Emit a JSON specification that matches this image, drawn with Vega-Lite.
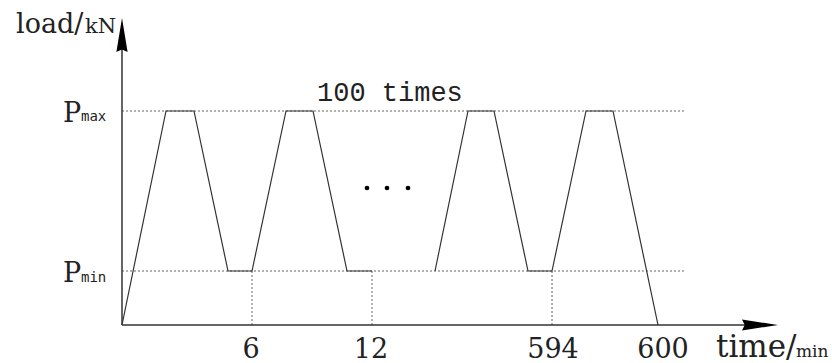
{
  "$schema": "https://vega.github.io/schema/vega-lite/v6.json",
  "width": 656,
  "height": 290,
  "autosize": {"type": "none"},
  "padding": {"left": 122, "top": 35, "right": 54, "bottom": 38},
  "background": "white",
  "config": {"view": {"stroke": null}},
  "datasets": {
    "wave": [
      {"seg": "a", "i": 0, "t": 0, "load": 0},
      {"seg": "a", "i": 1, "t": 44, "load": 214},
      {"seg": "a", "i": 2, "t": 72, "load": 214},
      {"seg": "a", "i": 3, "t": 106, "load": 54},
      {"seg": "a", "i": 4, "t": 130, "load": 54},
      {"seg": "a", "i": 5, "t": 164, "load": 214},
      {"seg": "a", "i": 6, "t": 191, "load": 214},
      {"seg": "a", "i": 7, "t": 225, "load": 54},
      {"seg": "a", "i": 8, "t": 250, "load": 54},
      {"seg": "b", "i": 0, "t": 313, "load": 54},
      {"seg": "b", "i": 1, "t": 346, "load": 214},
      {"seg": "b", "i": 2, "t": 372, "load": 214},
      {"seg": "b", "i": 3, "t": 406, "load": 54},
      {"seg": "b", "i": 4, "t": 430, "load": 54},
      {"seg": "b", "i": 5, "t": 464, "load": 214},
      {"seg": "b", "i": 6, "t": 491, "load": 214},
      {"seg": "b", "i": 7, "t": 536, "load": 0}
    ],
    "hlines": [
      {"t": 0, "t2": 563, "load": 214},
      {"t": 0, "t2": 563, "load": 54}
    ],
    "vlines": [
      {"t": 130, "load": 0, "load2": 54},
      {"t": 250, "load": 0, "load2": 54},
      {"t": 430, "load": 0, "load2": 54}
    ],
    "axes": [
      {"t": 0, "t2": 640, "load": 0, "load2": 0},
      {"t": 0, "t2": 0, "load": 0, "load2": 280}
    ],
    "arrowY": [{"t": 0, "load": 290}],
    "arrowX": [{"t": 638, "load": 0}],
    "dots": [
      {"t": 245, "load": 137},
      {"t": 265, "load": 137},
      {"t": 286, "load": 137}
    ],
    "ticks": [
      {"t": 129, "load": -33, "label": "6"},
      {"t": 249, "load": -33, "label": "12"},
      {"t": 431, "load": -33, "label": "594"},
      {"t": 541, "load": -33, "label": "600"}
    ],
    "bigLeft": [
      {"t": -106, "load": 292, "label": "load/"},
      {"t": -59, "load": 203, "label": "P"},
      {"t": -59, "load": 43, "label": "P"}
    ],
    "smallLeft": [
      {"t": -37, "load": 292, "label": "kN"}
    ],
    "subs": [
      {"t": -41, "load": 204, "label": "max"},
      {"t": -41, "load": 43, "label": "min"}
    ],
    "timeLabel": [{"t": 594, "load": -32, "label": "time/"}],
    "minLabel": [{"t": 674, "load": -32, "label": "min"}],
    "times": [{"t": 195, "load": 224, "label": "100 times"}]
  },
  "encoding": {
    "x": {"field": "t", "type": "quantitative", "scale": {"domain": [0, 656], "nice": false, "zero": false}, "axis": null},
    "y": {"field": "load", "type": "quantitative", "scale": {"domain": [0, 290], "nice": false, "zero": false}, "axis": null}
  },
  "layer": [
    {
      "data": {"name": "hlines"},
      "mark": {"type": "rule", "color": "#666", "strokeWidth": 1, "strokeDash": [2, 2]},
      "encoding": {"x2": {"field": "t2"}}
    },
    {
      "data": {"name": "vlines"},
      "mark": {"type": "rule", "color": "#666", "strokeWidth": 1, "strokeDash": [2, 2]},
      "encoding": {"y2": {"field": "load2"}}
    },
    {
      "data": {"name": "axes"},
      "mark": {"type": "rule", "color": "#333", "strokeWidth": 1.5},
      "encoding": {"x2": {"field": "t2"}, "y2": {"field": "load2"}}
    },
    {
      "data": {"name": "wave"},
      "mark": {"type": "line", "color": "#333", "strokeWidth": 1.2},
      "encoding": {"detail": {"field": "seg"}, "order": {"field": "i", "type": "quantitative"}}
    },
    {
      "data": {"name": "arrowY"},
      "mark": {"type": "point", "filled": true, "color": "black", "opacity": 1, "shape": "M0,-1 L0.33,1 L0,0.85 L-0.33,1 Z", "size": 1156}
    },
    {
      "data": {"name": "arrowX"},
      "mark": {"type": "point", "filled": true, "color": "black", "opacity": 1, "shape": "M1,0 L-1,-0.3 L-0.85,0 L-1,0.3 Z", "size": 1296}
    },
    {
      "data": {"name": "dots"},
      "mark": {"type": "point", "filled": true, "color": "black", "opacity": 1, "size": 22}
    },
    {
      "data": {"name": "ticks"},
      "mark": {"type": "text", "font": "DejaVu Serif", "fontSize": 27, "align": "center", "baseline": "alphabetic", "color": "#222"},
      "encoding": {"text": {"field": "label"}}
    },
    {
      "data": {"name": "bigLeft"},
      "mark": {"type": "text", "font": "DejaVu Serif", "fontSize": 27, "align": "left", "baseline": "alphabetic", "color": "#222"},
      "encoding": {"text": {"field": "label"}}
    },
    {
      "data": {"name": "smallLeft"},
      "mark": {"type": "text", "font": "DejaVu Serif", "fontSize": 21, "align": "left", "baseline": "alphabetic", "color": "#222"},
      "encoding": {"text": {"field": "label"}}
    },
    {
      "data": {"name": "subs"},
      "mark": {"type": "text", "font": "DejaVu Sans Mono", "fontSize": 14, "align": "left", "baseline": "alphabetic", "color": "#222"},
      "encoding": {"text": {"field": "label"}}
    },
    {
      "data": {"name": "timeLabel"},
      "mark": {"type": "text", "font": "DejaVu Serif", "fontSize": 31, "align": "left", "baseline": "alphabetic", "color": "#222"},
      "encoding": {"text": {"field": "label"}}
    },
    {
      "data": {"name": "minLabel"},
      "mark": {"type": "text", "font": "DejaVu Serif", "fontSize": 17, "align": "left", "baseline": "alphabetic", "color": "#222"},
      "encoding": {"text": {"field": "label"}}
    },
    {
      "data": {"name": "times"},
      "mark": {"type": "text", "font": "Liberation Mono", "fontSize": 27, "align": "left", "baseline": "alphabetic", "color": "#222"},
      "encoding": {"text": {"field": "label"}}
    }
  ]
}
